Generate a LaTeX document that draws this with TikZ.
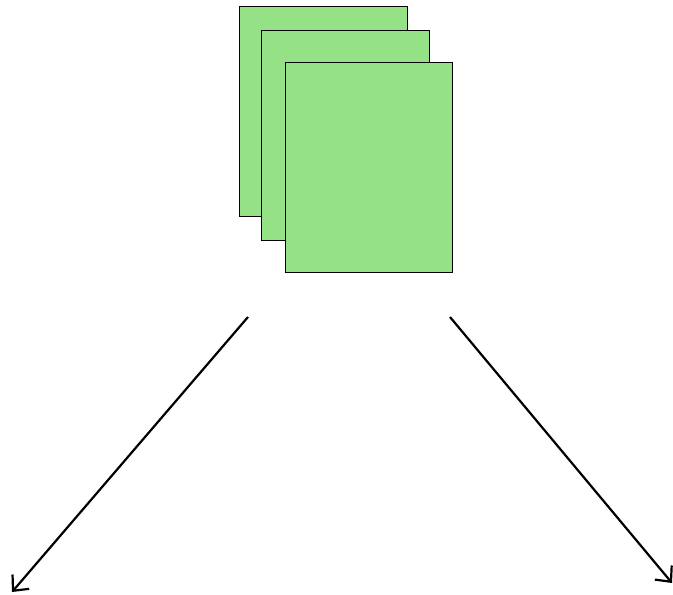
\documentclass[tikz,border=0pt]{standalone}
\usetikzlibrary{arrows.meta}
\definecolor{pagegreen}{RGB}{149,225,134}
\begin{document}
\begin{tikzpicture}[x=1pt,y=-1pt,
  page/.style={draw=black, fill=pagegreen, line width=0.8pt, minimum width=168pt, minimum height=210pt, inner sep=0pt, anchor=north west},
  flow/.style={draw=black, line width=2.2pt, -{Straight Barb[length=12pt,width=22pt,line width=2.2pt]}}]
\useasboundingbox (0,0) rectangle (673,595);
\node[page] (p1) at (239,6) {};
\node[page] (p2) at (261,30) {};
\node[page, minimum width=167pt] (p3) at (285,62) {};
\coordinate (ls) at (248,317);
\coordinate (le) at (12,592);
\coordinate (rs) at (450,317);
\coordinate (re) at (672,583);
\draw[flow] (ls) -- (le);
\draw[flow] (rs) -- (re);
\end{tikzpicture}
\end{document}
